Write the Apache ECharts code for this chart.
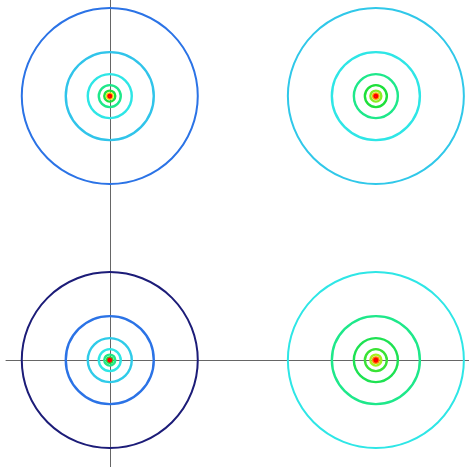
<!DOCTYPE html>
<html>
<head>
<meta charset="utf-8">
<style>
  html, body { margin: 0; padding: 0; background: #fff; }
  #chart { width: 469px; height: 467px; }
</style>
<script src="https://cdn.jsdelivr.net/npm/echarts@6/dist/echarts.min.js"></script>
</head>
<body>
<div id="chart"></div>
<script>
// Four sources, each drawn as a set of nested rings.
const centersX = [0, 1, 0, 1];
const centersY = [1, 1, 0, 0];

// Relative ring size, outermost first (each ring half the previous).
const ringSizes = [16, 8, 4, 2, 1, 0.5, 0.25];

// Intensity of every ring, per source (same order as ringSizes).
const intensityTopLeft     = [1.1, 2.1, 3.0, 4.0, 5.0, 7.0, 9.0];
const intensityTopRight    = [2.2, 3.0, 4.0, 5.0, 5.8, 7.5, 9.0];
const intensityBottomLeft  = [0.0, 1.1, 2.3, 3.0, 4.0, 5.0, 9.0];
const intensityBottomRight = [3.0, 4.0, 4.7, 5.2, 6.0, 8.0, 9.0];

const intensities = [intensityTopLeft, intensityTopRight, intensityBottomLeft, intensityBottomRight];

// Colour ramp for intensity 0..9.
const ramp = ['#1c1c78', '#2a6ae6', '#30c0ea', '#2ee6e6', '#1ee88a',
              '#1ee03a', '#a6f01a', '#f0e010', '#ff8a00', '#ff0000'];
const intensityMax = 9;

// Outer ring of each source has a thinner stroke; inner rings go on top.
const outerRings = [];
const innerRings = [];
for (let s = 0; s < centersX.length; s++) {
  for (let k = 0; k < ringSizes.length; k++) {
    const v = intensities[s][k];
    const item = {
      value: [centersX[s], centersY[s], v, ringSizes[k]],
      itemStyle: { borderColor: echarts.color.lerp(v / intensityMax, ramp) }
    };
    (k === 0 ? outerRings : innerRings).push(item);
  }
}

const axisCommon = {
  type: 'value',
  axisLine: { onZero: true, lineStyle: { color: '#666', width: 1 } },
  axisTick: { show: false }, axisLabel: { show: false }, splitLine: { show: false }
};

const ringSeries = (data, width) => ({
  type: 'scatter',
  symbol: 'circle',
  symbolSize: (v) => v[3] * 11,
  itemStyle: { color: 'rgba(0,0,0,0)', borderWidth: width, opacity: 1 },
  emphasis: { disabled: true },
  data: data
});

const chart = echarts.init(document.getElementById('chart'));
chart.setOption({
  animation: false,
  grid: { left: 6, right: 0, top: 0, bottom: 0 },
  xAxis: Object.assign({ min: -0.39, max: 1.35 }, axisCommon),
  yAxis: Object.assign({ min: -0.405, max: 1.364 }, axisCommon),
  series: [ringSeries(outerRings, 2), ringSeries(innerRings, 2.4)]
});
</script>
</body>
</html>
